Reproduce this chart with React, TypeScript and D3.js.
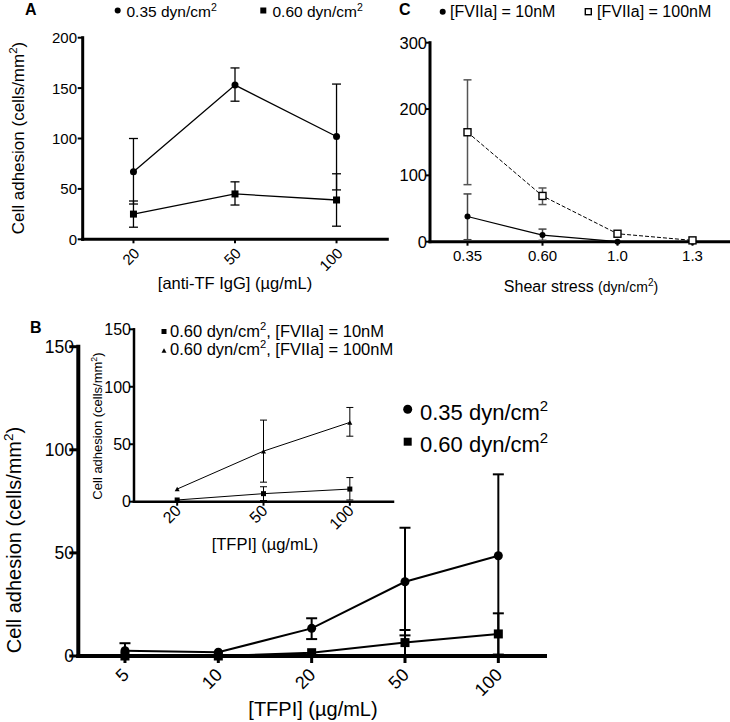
import React from "react";
import * as d3 from "d3";

const FONT = "'Liberation Sans', Arial, Helvetica, sans-serif";

// ---------- Panel A ----------
const aCats = ["20", "50", "100"];
const aYTicks = [0, 50, 100, 150, 200];
const a035Mean = [67, 153, 102];
const a035Upper = [100, 170, 154];
const a035Lower = [35, 137, 49];
const a060Mean = [25, 45, 39];
const a060Upper = [38, 57, 65];
const a060Lower = [12, 34, 13];

// ---------- Panel C ----------
const cCats = ["0.35", "0.60", "1.0", "1.3"];
const cYTicks = [0, 100, 200, 300];
const c10Mean = [38, 10, 0, 0];
const c10Upper = [72, 19, 0, 0];
const c10Lower = [3, 2, 0, 0];
const c100Mean = [165, 69, 12, 2];
const c100Upper = [244, 81, 12, 2];
const c100Lower = [86, 56, 12, 2];

// ---------- Panel B (main) ----------
const bCats = ["5", "10", "20", "50", "100"];
const bYTicks = [0, 50, 100, 150];
const b035Mean = [2.6, 1.8, 13.4, 36, 48.6];
const b035Upper = [6.2, 1.8, 18.3, 62.2, 88.1];
const b035Lower = [0, 1.8, 8.2, 10, 0];
const b060Mean = [0, 0, 1.6, 6.5, 10.7];
const b060Upper = [0, 0, 1.6, 12.6, 20.7];
const b060Lower = [0, 0, 1.6, 0.4, 0.7];

// ---------- Panel B (inset) ----------
const iCats = ["20", "50", "100"];
const iYTicks = [0, 50, 100, 150];
const i10Mean = [1.5, 7, 11];
const i10Upper = [1.5, 13, 21];
const i10Lower = [1.5, 1, 1.5];
const i100Mean = [11, 44, 69];
const i100Upper = [11, 71, 82];
const i100Lower = [11, 17, 57];

function SupText({ pre, sup, post = "", fs, ...rest }: any) {
  const shift = fs * 0.42;
  return (
    <text fontSize={fs} fontFamily={FONT} fill="#000" {...rest}>
      {pre}
      <tspan dy={-shift} fontSize={fs * 0.68}>{sup}</tspan>
      {post ? <tspan dy={shift}>{post}</tspan> : null}
    </text>
  );
}

function Marker({ type, cx, cy, s }: any) {
  if (type === "circle") return <circle cx={cx} cy={cy} r={s / 2} fill="#000" />;
  if (type === "square")
    return <rect x={cx - s / 2} y={cy - s / 2} width={s} height={s} fill="#000" />;
  if (type === "openSquare")
    return (
      <rect x={cx - s / 2} y={cy - s / 2} width={s} height={s} fill="#fff" stroke="#000" strokeWidth={1.4} />
    );
  const h = s * 0.9;
  return (
    <path
      d={`M${cx},${cy - h / 2} L${cx + s / 2},${cy + h / 2} L${cx - s / 2},${cy + h / 2} Z`}
      fill="#000"
    />
  );
}

function Series({ x, y, cats, mean, upper, lower, marker, size, lw, errLw, capW, dash, errColor = "#000" }: any) {
  const line = d3
    .line<number>()
    .x((_, i) => x(cats[i]))
    .y((d) => y(d));
  return (
    <g>
      {cats.map((c: string, i: number) => {
        const cx = x(c);
        const bars = [];
        if (upper[i] > mean[i]) {
          bars.push(<line key="u" x1={cx} x2={cx} y1={y(mean[i])} y2={y(upper[i])} stroke={errColor} strokeWidth={errLw} />);
          bars.push(<line key="uc" x1={cx - capW / 2} x2={cx + capW / 2} y1={y(upper[i])} y2={y(upper[i])} stroke={errColor} strokeWidth={errLw} />);
        }
        if (lower[i] < mean[i]) {
          bars.push(<line key="l" x1={cx} x2={cx} y1={y(mean[i])} y2={y(lower[i])} stroke={errColor} strokeWidth={errLw} />);
          bars.push(<line key="lc" x1={cx - capW / 2} x2={cx + capW / 2} y1={y(lower[i])} y2={y(lower[i])} stroke={errColor} strokeWidth={errLw} />);
        }
        return <g key={c}>{bars}</g>;
      })}
      <path d={line(mean) || ""} fill="none" stroke="#000" strokeWidth={lw} strokeDasharray={dash} />
      {cats.map((c: string, i: number) => (
        <Marker key={c} type={marker} cx={x(c)} cy={y(mean[i])} s={size} />
      ))}
    </g>
  );
}

function Axes({ x, y, cats, yTicks, axisW, tickLen, tickW, yFs, xFs, yLabelX, xRot, xLabelOff, xTickLen }: any) {
  const [x0, x1] = x.range();
  const [yb, yt] = y.range();
  return (
    <g>
      <line x1={x0} x2={x0} y1={yt} y2={yb} stroke="#000" strokeWidth={axisW} strokeLinecap="square" />
      <line x1={x0} x2={x1} y1={yb} y2={yb} stroke="#000" strokeWidth={axisW} strokeLinecap="square" />
      {yTicks.map((t: number) => (
        <g key={t}>
          <line x1={x0 - tickLen} x2={x0} y1={y(t)} y2={y(t)} stroke="#000" strokeWidth={tickW} />
          <text x={yLabelX} y={y(t)} dy="0.36em" textAnchor="end" fontSize={yFs} fontFamily={FONT} fill="#000">
            {t}
          </text>
        </g>
      ))}
      {cats.map((c: string) => (
        <g key={c}>
          <line x1={x(c)} x2={x(c)} y1={yb} y2={yb + xTickLen} stroke="#000" strokeWidth={tickW} />
          {xRot ? (
            <text
              transform={`translate(${x(c) + xLabelOff[0]},${yb + xLabelOff[1]}) rotate(-45)`}
              textAnchor="end"
              fontSize={xFs}
              fontFamily={FONT}
              fill="#000"
            >
              {c}
            </text>
          ) : (
            <text x={x(c)} y={yb + xLabelOff[1]} textAnchor="middle" fontSize={xFs} fontFamily={FONT} fill="#000">
              {c}
            </text>
          )}
        </g>
      ))}
    </g>
  );
}

export default function App() {
  const xA = d3.scalePoint<string>().domain(aCats).range([82.7, 387.3]).padding(0.5);
  const yA = d3.scaleLinear().domain([0, 200]).range([239.3, 37.7]);
  const xC = d3.scalePoint<string>().domain(cCats).range([430, 730]).padding(0.5);
  const yC = d3.scaleLinear().domain([0, 300]).range([241.7, 42.7]);
  const xB = d3.scalePoint<string>().domain(bCats).range([78.3, 545]).padding(0.5);
  const yB = d3.scaleLinear().domain([0, 150]).range([656, 346.7]);
  const xI = d3.scalePoint<string>().domain(iCats).range([134, 393]).padding(0.5);
  const yI = d3.scaleLinear().domain([0, 150]).range([501.7, 329.3]);

  return (
    <svg width={730} height={722} style={{ position: "absolute", left: 0, top: 0, background: "#fff" }}>
      <rect width={730} height={722} fill="#fff" />

      {/* ===== Panel A ===== */}
      <text x={25} y={15} fontSize={16} fontWeight="bold" fontFamily={FONT}>A</text>
      <Marker type="circle" cx={117.7} cy={10.5} s={6} />
      <SupText x={126.5} y={17.3} fs={15.5} pre="0.35 dyn/cm" sup="2" />
      <Marker type="square" cx={263.3} cy={10.5} s={6} />
      <SupText x={272.5} y={17.3} fs={15.5} pre="0.60 dyn/cm" sup="2" />
      <Axes x={xA} y={yA} cats={aCats} yTicks={aYTicks} axisW={3} tickLen={5} tickW={2} yFs={15} xFs={15}
        yLabelX={77} xRot xLabelOff={[7, 15]} xTickLen={4} />
      <Series x={xA} y={yA} cats={aCats} mean={a035Mean} upper={a035Upper} lower={a035Lower}
        marker="circle" size={7} lw={1.3} errLw={1.3} capW={9} />
      <Series x={xA} y={yA} cats={aCats} mean={a060Mean} upper={a060Upper} lower={a060Lower}
        marker="square" size={7} lw={1.3} errLw={1.3} capW={9} />
      <SupText transform="translate(24,138) rotate(-90)" textAnchor="middle" fs={17}
        pre="Cell adhesion (cells/mm" sup="2" post=")" />
      <text x={235} y={289} textAnchor="middle" fontSize={16.5} fontFamily={FONT}>[anti-TF IgG] (µg/mL)</text>

      {/* ===== Panel C ===== */}
      <text x={399} y={15} fontSize={16} fontWeight="bold" fontFamily={FONT}>C</text>
      <Marker type="circle" cx={442.7} cy={11.7} s={6} />
      <text x={450} y={16.7} fontSize={16} fontFamily={FONT}>[FVIIa] = 10nM</text>
      <Marker type="openSquare" cx={588.3} cy={11.7} s={6} />
      <text x={597} y={16.7} fontSize={16} fontFamily={FONT}>[FVIIa] = 100nM</text>
      <Axes x={xC} y={yC} cats={cCats} yTicks={cYTicks} axisW={3} tickLen={4} tickW={2} yFs={16.5} xFs={15}
        yLabelX={427} xLabelOff={[0, 19]} xTickLen={4} />
      <Series x={xC} y={yC} cats={cCats} mean={c10Mean} upper={c10Upper} lower={c10Lower}
        marker="circle" size={6} lw={1.2} errLw={1.5} capW={8} errColor="#444" />
      <Series x={xC} y={yC} cats={cCats} mean={c100Mean} upper={c100Upper} lower={c100Lower}
        marker="openSquare" size={7} lw={1} errLw={1.5} capW={8} dash="4,2" errColor="#555" />
      <text x={581} y={291.7} textAnchor="middle" fontFamily={FONT} fill="#000">
        <tspan fontSize={16}>Shear stress </tspan>
        <tspan fontSize={14}>(dyn/cm</tspan>
        <tspan fontSize={10} dy={-6}>2</tspan>
        <tspan fontSize={14} dy={6}>)</tspan>
      </text>

      {/* ===== Panel B ===== */}
      <text x={30} y={333} fontSize={16} fontWeight="bold" fontFamily={FONT}>B</text>
      <Axes x={xB} y={yB} cats={bCats} yTicks={bYTicks} axisW={4} tickLen={9} tickW={3} yFs={17.5} xFs={18}
        yLabelX={74} xRot xLabelOff={[5, 20]} xTickLen={7} />
      <Series x={xB} y={yB} cats={bCats} mean={b035Mean} upper={b035Upper} lower={b035Lower}
        marker="circle" size={9} lw={2} errLw={2} capW={11} />
      <Series x={xB} y={yB} cats={bCats} mean={b060Mean} upper={b060Upper} lower={b060Lower}
        marker="square" size={9} lw={2} errLw={2} capW={11} />
      <SupText transform="translate(21,540) rotate(-90)" textAnchor="middle" fs={20}
        pre="Cell adhesion (cells/mm" sup="2" post=")" />
      <text x={313} y={716} textAnchor="middle" fontSize={20} fontFamily={FONT}>[TFPI] (µg/mL)</text>

      <Marker type="circle" cx={407.7} cy={409.3} s={9} />
      <SupText x={420} y={420} fs={22} pre="0.35 dyn/cm" sup="2" />
      <Marker type="square" cx={407.7} cy={441.7} s={8} />
      <SupText x={420} y={452.3} fs={22} pre="0.60 dyn/cm" sup="2" />

      {/* ===== Inset ===== */}
      <Axes x={xI} y={yI} cats={iCats} yTicks={iYTicks} axisW={2.5} tickLen={5} tickW={2} yFs={16} xFs={16}
        yLabelX={131} xRot xLabelOff={[5, 10]} xTickLen={4} />
      <Series x={xI} y={yI} cats={iCats} mean={i10Mean} upper={i10Upper} lower={i10Lower}
        marker="square" size={5} lw={1} errLw={1} capW={7} />
      <Series x={xI} y={yI} cats={iCats} mean={i100Mean} upper={i100Upper} lower={i100Lower}
        marker="triangle" size={5} lw={1} errLw={1} capW={7} />
      <SupText transform="translate(102,426) rotate(-90)" textAnchor="middle" fs={13}
        pre="Cell adhesion (cells/mm" sup="2" post=")" />
      <text x={265} y={550} textAnchor="middle" fontSize={16.5} fontFamily={FONT}>[TFPI] (µg/mL)</text>
      <Marker type="square" cx={164} cy={331.5} s={5} />
      <SupText x={170} y={336.7} fs={16.5} pre="0.60 dyn/cm" sup="2" post=", [FVIIa] = 10nM" />
      <Marker type="triangle" cx={164} cy={350.5} s={5} />
      <SupText x={170} y={355.3} fs={16.5} pre="0.60 dyn/cm" sup="2" post=", [FVIIa] = 100nM" />
    </svg>
  );
}
